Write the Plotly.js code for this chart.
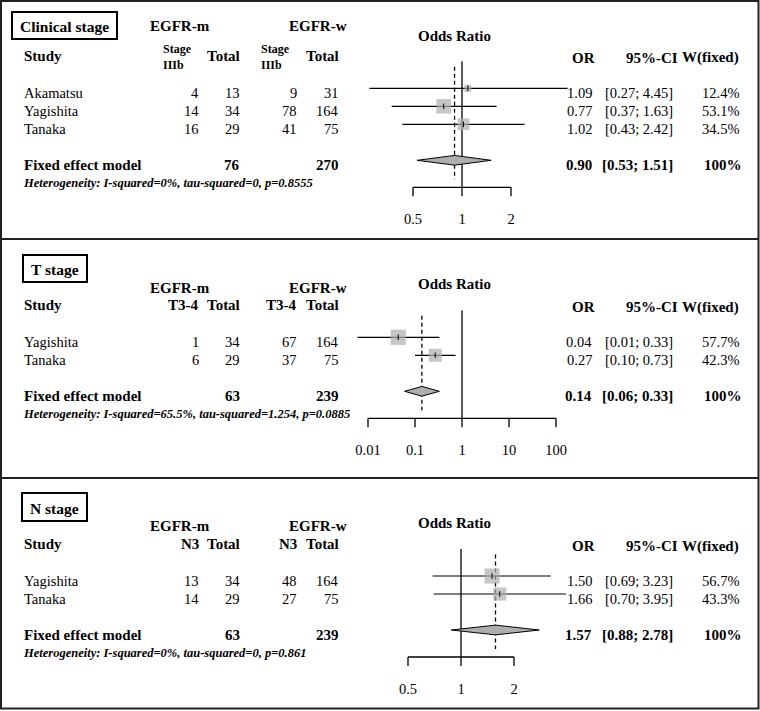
<!DOCTYPE html>
<html><head><meta charset="utf-8">
<script src="https://cdn.plot.ly/plotly-3.0.1.min.js"></script>
<style>html,body{margin:0;padding:0;background:#fff}</style>
</head><body><div id="chart" style="width:760px;height:711px"></div>
<script>
// ---------------- data ----------------
const panelTitles = ['Clinical stage', 'T stage', 'N stage'];
const eventLabels = [['Stage', 'IIIb'], ['T3-4'], ['N3']];

const clinStudies = ['Akamatsu', 'Yagishita', 'Tanaka'];
const clinEventsM = [4, 14, 16];
const clinTotalM = [13, 34, 29];
const clinEventsW = [9, 78, 41];
const clinTotalW = [31, 164, 75];
const clinOR = [1.086, 0.772, 1.021];
const clinLower = [0.27, 0.37, 0.43];
const clinUpper = [4.45, 1.63, 2.42];
const clinWeight = [12.4, 53.1, 34.5];
const clinPooled = [0.90, 0.53, 1.51];      // OR, lower, upper
const clinPooledTotals = [76, 270];
const clinHet = ['0%', '0', '0.8555'];      // I-squared, tau-squared, p
const clinTicks = [0.5, 1, 2];

const tStudies = ['Yagishita', 'Tanaka'];
const tEventsM = [1, 6];
const tTotalM = [34, 29];
const tEventsW = [67, 37];
const tTotalW = [164, 75];
const tOR = [0.044, 0.27];
const tLower = [0.006, 0.10];
const tUpper = [0.33, 0.73];
const tWeight = [57.7, 42.3];
const tPooled = [0.14, 0.06, 0.33];
const tPooledTotals = [63, 239];
const tHet = ['65.5%', '1.254', '0.0885'];
const tTicks = [0.01, 0.1, 1, 10, 100];

const nStudies = ['Yagishita', 'Tanaka'];
const nEventsM = [13, 14];
const nTotalM = [34, 29];
const nEventsW = [48, 27];
const nTotalW = [164, 75];
const nOR = [1.50, 1.66];
const nLower = [0.69, 0.70];
const nUpper = [3.23, 3.95];
const nWeight = [56.7, 43.3];
const nPooled = [1.57, 0.88, 2.78];
const nPooledTotals = [63, 239];
const nHet = ['0%', '0', '0.861'];
const nTicks = [0.5, 1, 2];

// ---------------- layout helpers ----------------
const W = 760, H = 711;
const FONT = 'Liberation Serif, Times New Roman, serif';
const px = x => x / W;
const py = y => 1 - y / H;
const RP = 18; // pixels per table row

const panels = [
  {title: panelTitles[0], evLab: eventLabels[0], studies: clinStudies, evM: clinEventsM, totM: clinTotalM, evW: clinEventsW, totW: clinTotalW, or: clinOR, lo: clinLower, hi: clinUpper, w: clinWeight, pooled: clinPooled, totals: clinPooledTotals, het: clinHet, ticks: clinTicks},
  {title: panelTitles[1], evLab: eventLabels[1], studies: tStudies, evM: tEventsM, totM: tTotalM, evW: tEventsW, totW: tTotalW, or: tOR, lo: tLower, hi: tUpper, w: tWeight, pooled: tPooled, totals: tPooledTotals, het: tHet, ticks: tTicks},
  {title: panelTitles[2], evLab: eventLabels[2], studies: nStudies, evM: nEventsM, totM: nTotalM, evW: nEventsW, totW: nTotalW, or: nOR, lo: nLower, hi: nUpper, w: nWeight, pooled: nPooled, totals: nPooledTotals, het: nHet, ticks: nTicks}
];
const geo = [
  {row1: 88.3, onePx: 462, ppd: 162.8, box: [12, 12, 117, 39], egfrY: 26, headY: 56, orTitleY: 36},
  {row1: 337.3, onePx: 462, ppd: 47.0, box: [23, 255, 87, 282], egfrY: 288, headY: 305, orTitleY: 284},
  {row1: 576, onePx: 461, ppd: 176.1, box: [22, 493, 87, 521], egfrY: 526, headY: 544, orTitleY: 523}
];
const plotL = 352, plotR = 572;

const traces = [];
const annotations = [];
const shapes = [];
const layout = {
  width: W, height: H, margin: {l: 0, r: 0, t: 0, b: 0},
  paper_bgcolor: '#fff', plot_bgcolor: 'rgba(0,0,0,0)', showlegend: false,
  font: {family: FONT, color: '#000', size: 14}
};

function ann(text, x, y, o) {
  annotations.push(Object.assign({
    text: text, x: x, y: y, xref: 'paper', yref: 'paper', showarrow: false,
    xanchor: 'left', yanchor: 'middle', borderpad: 0, borderwidth: 0,
    font: {family: FONT, size: 14.5, color: '#000'}
  }, o || {}));
}

const GREY = '#aeaeae';
const LW = 1.3;

panels.forEach((P, p) => {
  const g = geo[p];
  const n = P.studies.length;
  const sfx = p === 0 ? '' : String(p + 1);
  const xa = 'x' + sfx, ya = 'y' + sfx;
  const rows = P.studies.map((s, i) => i + 1);
  const sumRow = n + 2, axisRow = n + 3.5, tickEnd = n + 4;

  // axes
  const topPx = g.row1 - 1.5 * RP;
  const botPx = g.row1 + (tickEnd - 1) * RP;
  layout['xaxis' + sfx] = {
    type: 'log', domain: [px(plotL), px(plotR)], anchor: ya,
    range: [-(g.onePx - plotL) / g.ppd, (plotR - g.onePx) / g.ppd],
    tickvals: P.ticks, ticktext: P.ticks.map(String), ticks: '',
    showgrid: false, zeroline: false, showline: false, fixedrange: true,
    ticklabelstandoff: 12, tickfont: {family: FONT, size: 14.5, color: '#000'}
  };
  layout['yaxis' + sfx] = {
    domain: [py(botPx), py(topPx)], range: [tickEnd, -0.5], anchor: xa,
    visible: false, showgrid: false, zeroline: false, fixedrange: true
  };

  const base = {xaxis: xa, yaxis: ya, hoverinfo: 'skip', cliponaxis: false};
  // reference line at OR = 1
  traces.push(Object.assign({x: [1, 1], y: [-0.5, axisRow], mode: 'lines', line: {color: '#000', width: LW}}, base));
  // pooled estimate dashed line
  traces.push(Object.assign({x: [P.pooled[0], P.pooled[0]], y: [-0.2, n + 3.05], mode: 'lines', line: {color: '#000', width: LW, dash: '4px,3px'}}, base));
  // confidence intervals
  const cx = [], cy = [];
  rows.forEach((r, i) => { cx.push(P.lo[i], P.hi[i], null); cy.push(r, r, null); });
  traces.push(Object.assign({x: cx, y: cy, mode: 'lines', line: {color: '#000', width: 1.2}}, base));
  // weighted squares
  traces.push(Object.assign({x: P.or, y: rows, mode: 'markers', marker: {symbol: 'square', size: P.w.map(v => 2 * Math.sqrt(v)), color: GREY, line: {width: 0}}}, base));
  traces.push(Object.assign({x: P.or, y: rows, mode: 'markers', marker: {symbol: 'line-ns-open', size: 4, color: '#000', line: {color: '#000', width: 1}}}, base));
  // pooled diamond
  const h = 0.27;
  traces.push(Object.assign({
    x: [P.pooled[1], P.pooled[0], P.pooled[2], P.pooled[0], P.pooled[1]],
    y: [sumRow, sumRow - h, sumRow, sumRow + h, sumRow],
    mode: 'lines', fill: 'toself', fillcolor: GREY, line: {color: '#000', width: 1}
  }, base));
  // axis line and ticks
  const tx = [P.ticks[0], P.ticks[P.ticks.length - 1], null], ty = [axisRow, axisRow, null];
  P.ticks.forEach(t => { tx.push(t, t, null); ty.push(axisRow, tickEnd + 0.2, null); });
  traces.push(Object.assign({x: tx, y: ty, mode: 'lines', line: {color: '#000', width: LW}}, base));

  // ---- header texts ----
  const b = g.box;
  const HF = {family: FONT, size: 15, color: '#000'};
  shapes.push({type: 'rect', xref: 'paper', yref: 'paper', x0: px(b[0]), x1: px(b[2]), y0: py(b[1]), y1: py(b[3]), line: {color: '#000', width: 2}});
  ann('<b>' + P.title + '</b>', px((b[0] + b[2]) / 2), py((b[1] + b[3]) / 2 + 1), {xanchor: 'center', font: {family: FONT, size: 15.5, color: '#000'}});
  ann('<b>EGFR-m</b>', px(180), py(g.egfrY), {xanchor: 'center', font: HF});
  ann('<b>EGFR-w</b>', px(318), py(g.egfrY), {xanchor: 'center', font: HF});
  ann('<b>Study</b>', px(24), py(g.headY), {font: HF});
  if (P.evLab.length === 2) {
    [163, 261].forEach(x => {
      ann('<b>' + P.evLab.join('<br>') + '</b>', px(x), py(g.headY + 1), {align: 'left', font: {family: FONT, size: 12, color: '#000'}});
    });
  } else {
    [199, 297].forEach(x => ann('<b>' + P.evLab[0] + '</b>', px(x), py(g.headY), {xanchor: 'right', font: HF}));
  }
  [240, 339].forEach(x => ann('<b>Total</b>', px(x), py(g.headY), {xanchor: 'right', font: HF}));
  ann('<b>Odds Ratio</b>', px(454), py(g.orTitleY), {xanchor: 'center', font: HF});
  ann('<b>OR</b>', px(595), py(g.headY + 2), {xanchor: 'right', font: HF});
  ann('<b>95%-CI</b>', px(678), py(g.headY + 2), {xanchor: 'right', font: HF});
  ann('<b>W(fixed)</b>', px(739), py(g.headY + 2), {xanchor: 'right', font: HF});

  // ---- table rows (placed on the panel's row scale) ----
  const rowAnn = (text, x, r, o) => ann(text, px(x), r, Object.assign({yref: ya, yshift: -4.5}, o || {}));
  const R = {xanchor: 'right'};
  rows.forEach((r, i) => {
    rowAnn(P.studies[i], 24, r);
    rowAnn(String(P.evM[i]), 199, r, R);
    rowAnn(String(P.totM[i]), 240, r, R);
    rowAnn(String(P.evW[i]), 297, r, R);
    rowAnn(String(P.totW[i]), 339, r, R);
    rowAnn(P.or[i].toFixed(2), 592, r, R);
    rowAnn('[' + P.lo[i].toFixed(2) + '; ' + P.hi[i].toFixed(2) + ']', 673, r, R);
    rowAnn(P.w[i].toFixed(1) + '%', 739, r, R);
  });
  const BF = {family: FONT, size: 15, color: '#000'};
  rowAnn('<b>Fixed effect model</b>', 24, sumRow, {font: BF});
  rowAnn('<b>' + P.totals[0] + '</b>', 240, sumRow, {xanchor: 'right', font: BF});
  rowAnn('<b>' + P.totals[1] + '</b>', 339, sumRow, {xanchor: 'right', font: BF});
  rowAnn('<b>' + P.pooled[0].toFixed(2) + '</b>', 592, sumRow, {xanchor: 'right', font: BF});
  rowAnn('<b>[' + P.pooled[1].toFixed(2) + '; ' + P.pooled[2].toFixed(2) + ']</b>', 673, sumRow, {xanchor: 'right', font: BF});
  rowAnn('<b>100%</b>', 742, sumRow, {xanchor: 'right', font: BF});
  rowAnn('<b><i>Heterogeneity: I-squared=' + P.het[0] + ', tau-squared=' + P.het[1] + ', p=' + P.het[2] + '</i></b>',
    23, n + 3, {font: {family: FONT, size: 12.5, color: '#000'}});
});

// frame and panel dividers
shapes.push({type: 'rect', xref: 'paper', yref: 'paper', x0: px(1), x1: px(758.5), y0: py(1), y1: py(708.5), line: {color: '#222', width: 2}});
[239, 478].forEach(y => shapes.push({type: 'line', xref: 'paper', yref: 'paper', x0: px(1), x1: px(758.5), y0: py(y), y1: py(y), line: {color: '#222', width: 2}}));

layout.annotations = annotations;
layout.shapes = shapes;
Plotly.newPlot('chart', traces, layout, {staticPlot: true, displayModeBar: false});
</script>
</body></html>
